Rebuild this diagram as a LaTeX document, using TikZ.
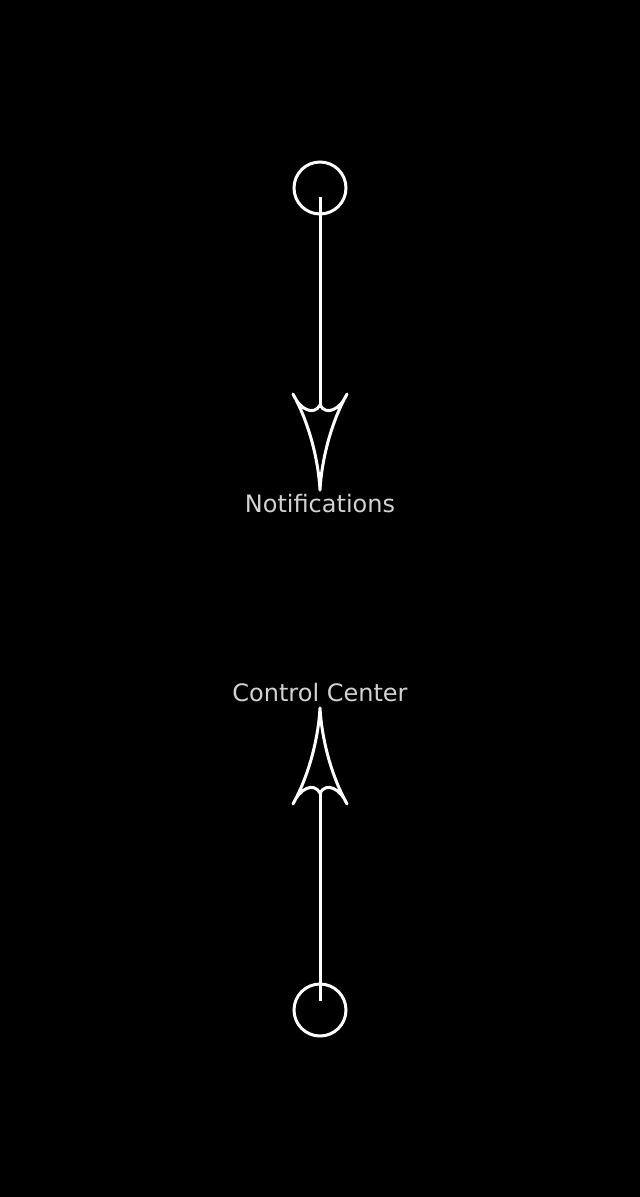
\documentclass[tikz,border=0pt]{standalone}
\usepackage{fontspec}
\setmainfont{DejaVu Sans}
\usepackage{tikz}
\usetikzlibrary{arrows,shapes}
\definecolor{caption}{HTML}{D2D2D2}
\tikzstyle{port}=[circle,draw=white,line width=3pt,minimum size=52pt,inner sep=0pt]
\tikzstyle{shaft} = [draw=white,line width=3pt,shorten <=9pt]
\tikzstyle{tag} = [text=caption,anchor=base,inner sep=0pt,font=\fontsize{24}{28}\selectfont]
\tikzset{vane/.pic={
    \draw[white,line width=3pt,line join=round]
      (-27,-96) .. controls (-13,-71) and (-2,-35) .. (0,0)
      .. controls (2,-35) and (13,-71) .. (27,-96)
      .. controls (20,-80) and (6,-74) .. (0,-85)
      .. controls (-6,-74) and (-20,-80) .. cycle;
}}

\begin{document}
\begin{tikzpicture}[x=1pt,y=-1pt]

    \fill[black] (0,0) rectangle (640,1197);
    \useasboundingbox (0,0) rectangle (640,1197);

     \foreach \x/\y/\name in {320/188/bell, 320/1010/gear}
        \node[port] (\name) at (\x,\y) {};

     \foreach \y/\name in {405/nback, 793/cback}
        \coordinate (\name) at (320,\y);

    \pic at (320,490) {vane};
    \pic[rotate=180] at (320,708) {vane};

    \foreach \source/ \dest in {bell/nback, gear/cback}
        \path[shaft] (\source.center) -- (\dest);

       \node[tag] (notif) at (320,512) {Notifications};
       \node[tag] (ctrl) at (320,701) {Control Center};

   \end{tikzpicture}
\end{document}
